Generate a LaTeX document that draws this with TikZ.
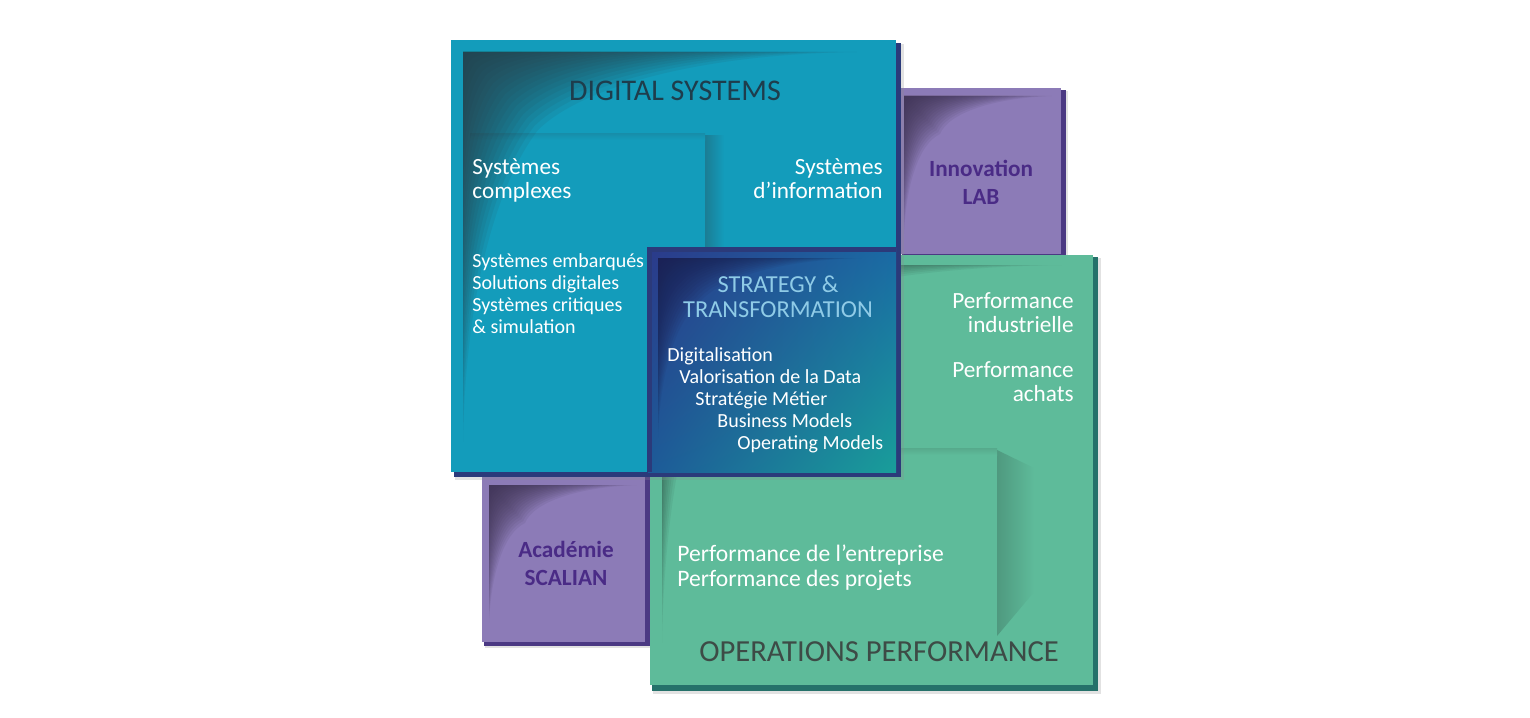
\documentclass[tikz,border=0pt]{standalone}
\usepackage{fontspec}
\setmainfont{Carlito}
\usetikzlibrary{shadings}

\definecolor{digiteal}{HTML}{139CBB}
\definecolor{diginavy}{HTML}{2B3A7A}
\definecolor{lilac}{HTML}{8C7BB7}
\definecolor{lilacdark}{HTML}{4B3983}
\definecolor{lilactext}{HTML}{4A2B86}
\definecolor{mint}{HTML}{5EBB9A}
\definecolor{mintdark}{HTML}{25716A}
\definecolor{curlgrey}{HTML}{2C3A42}
\definecolor{curlplum}{HTML}{3A2F4E}
\definecolor{curlgreen}{HTML}{2C4A40}
\definecolor{curlnavy}{HTML}{1A2250}
\definecolor{titleslate}{HTML}{1E3D4C}
\definecolor{stratlight}{HTML}{8FCBE7}
\definecolor{opsgrey}{HTML}{3D4B46}
\definecolor{stratul}{HTML}{2B3A8A}
\definecolor{stratur}{HTML}{1A6AA4}
\definecolor{stratll}{HTML}{1D5A98}
\definecolor{stratlr}{HTML}{199E9A}

% inner shade in the top left corner of a box:
% corner x, corner y, length along top, length down the left, corner width, corner height, colour
\newcommand{\curl}[7]{%
  \foreach \s in {0.05,0.1,...,1.01}
    \fill[#7, fill opacity=0.085, shift={(#1,#2)}, scale=\s] (0,0) -- (#3,0)
      .. controls ({0.6*#3},2) and ({0.3*#3},{0.45*#6}) .. (#5,#6)
      .. controls ({0.4*#5},{0.35*#4}) and (2,{0.65*#4}) .. (0,#4) -- cycle;}

\begin{document}
\begin{tikzpicture}[x=0.5pt,y=-0.5pt,
  txt/.style={text=white, inner sep=0pt, font=\fontsize{11.6}{11.9}\selectfont},
  small/.style={text=white, inner sep=0pt, font=\fontsize{10}{11}\selectfont},
  lab/.style={text=lilactext, inner sep=0pt, align=center, font=\bfseries\fontsize{11.6}{13.6}\selectfont},
  halo/.style={fill=black!45, opacity=0.25}]
\useasboundingbox (0,0) rectangle (1530,717);

% Innovation LAB
\fill[halo] (903,91) rectangle (1068,259);
\fill[lilacdark] (902,90) rectangle (1066,257);
\fill[lilac] (900,88) rectangle (1061,254);
\curl{904}{96}{148}{138}{36}{38}{curlplum}

% Academie SCALIAN
\fill[halo] (485,478) rectangle (652,648);
\fill[lilacdark] (484,477) rectangle (650,646);
\fill[lilac] (482,475) rectangle (645,642);
\curl{489}{485}{148}{138}{36}{38}{curlplum}

% Operations performance
\fill[halo] (653,258) rectangle (1101,694);
\fill[mintdark] (652,257) rectangle (1098,691);
\fill[mint] (650,255) rectangle (1093,685);
\shade[left color=mint!70!curlgreen, right color=mint] (997,450) -- (1034,468) -- (1034,592) -- (997,636) -- cycle;
\shade[top color=mint!85!curlgreen, bottom color=mint] (900,448) rectangle (997,455);
\curl{662}{265}{400}{378}{60}{62}{curlgreen}

% Digital systems
\fill[halo] (455,44) rectangle (904,480);
\fill[diginavy] (454,43) rectangle (901,477);
\fill[digiteal] (451,40) rectangle (896,472);
\shade[left color=digiteal!68!curlgrey, right color=digiteal] (705,135) rectangle (724,250);
\shade[top color=digiteal!85!curlgrey, bottom color=digiteal] (470,133) rectangle (705,140);
\curl{463}{52}{394}{390}{75}{78}{curlgrey}

% Strategy & transformation
\shade[upper left=stratul, upper right=stratur, lower left=stratll, lower right=stratlr]
  (648,248) rectangle (896,472);
\draw[diginavy, line width=2.5] (649,472) -- (649,249) -- (896,249);
\curl{658}{258}{204}{180}{42}{44}{curlnavy}

% texts
\node[text=titleslate, inner sep=0pt, anchor=base, font=\fontsize{15}{15}\selectfont] (digtitle) at (675,101) {DIGITAL SYSTEMS};
\node[txt, align=left, anchor=base west] (complexes) at (472,198) {Systèmes\\complexes};
\node[txt, align=right, anchor=base east] (information) at (883,198) {Systèmes\\d’information};
\node[small, align=left, anchor=base west] (embarques) at (472,333) {Systèmes embarqués\\Solutions digitales\\Systèmes critiques\\\& simulation};
\node[text=stratlight, inner sep=0pt, align=center, anchor=base, font=\fontsize{12.2}{12.5}\selectfont] (strattitle) at (778,317) {STRATEGY \&\\TRANSFORMATION};
\node[small, align=left, anchor=base west] (digitalisation) at (667,449) {Digitalisation\\
  \hspace*{6pt}Valorisation de la Data\\
  \hspace*{14pt}Stratégie Métier\\
  \hspace*{25pt}Business Models\\
  \hspace*{35pt}Operating Models};
\node[lab, anchor=base] (innovation) at (981,204) {Innovation\\LAB};
\node[lab, anchor=base] (academie) at (566,585) {Académie\\SCALIAN};
\node[txt, align=right, anchor=base east] (industrielle) at (1074,332) {Performance\\industrielle};
\node[txt, align=right, anchor=base east] (achats) at (1074,401) {Performance\\achats};
\node[txt, align=left, anchor=base west, font=\fontsize{11.8}{12.4}\selectfont] (entreprise) at (677,586) {Performance de l’entreprise\\Performance des projets};
\node[text=opsgrey, inner sep=0pt, anchor=base, font=\fontsize{15.3}{16}\selectfont] (opstitle) at (879,661) {OPERATIONS PERFORMANCE};
\end{tikzpicture}
\end{document}
